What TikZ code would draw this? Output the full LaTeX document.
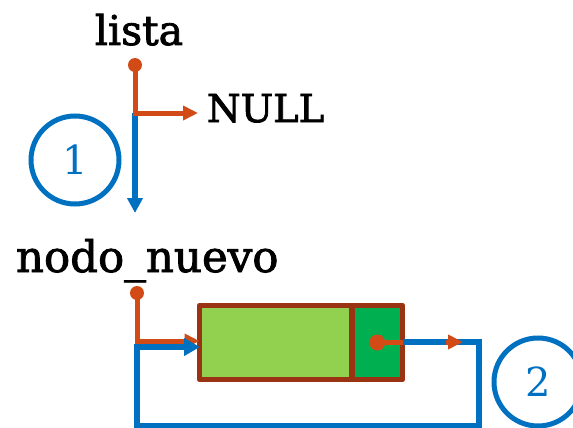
\documentclass[tikz,border=0pt]{standalone}
\usepackage{fontspec}
\setmainfont{DejaVu Serif}
\newfontfamily\slabfont{DejaVu Serif}[FakeBold=2]
\usetikzlibrary{arrows.meta}
\definecolor{ptrred}{RGB}{210,75,23}
\definecolor{ptrblue}{RGB}{0,112,192}
\definecolor{boxbrown}{RGB}{153,51,17}
\definecolor{lgreen}{RGB}{146,208,80}
\definecolor{dgreen}{RGB}{0,176,80}
\begin{document}
\begin{tikzpicture}[x=1pt,y=-1pt,
  lbl/.style={font=\slabfont\fontsize{41}{48}\selectfont, inner sep=0pt, outer sep=0pt},
  redptr/.style={draw=ptrred, line width=5pt},
  blueptr/.style={draw=ptrblue, line width=5.5pt},
  redtip/.style={-{Triangle[length=15pt,width=14pt]}},
  bluetip/.style={-{Triangle[length=16pt,width=17pt]}},
  bluetipsmall/.style={-{Triangle[length=15pt,width=15pt]}},
  dotnode/.style={circle, fill=ptrred, minimum size=14pt, inner sep=0pt, outer sep=0pt},
  stepcirc/.style={circle, draw=ptrblue, line width=5pt, minimum size=88pt, inner sep=0pt, outer sep=0pt, text=ptrblue, font=\fontsize{40}{48}\selectfont},
  cell/.style={draw=boxbrown, line width=5.5pt, minimum height=74pt, inner sep=0pt, outer sep=0pt, line join=round}
]
\useasboundingbox (0,0) rectangle (573,428);
\clip (0,0) rectangle (573,428);

% labels
\node[lbl, anchor=base] (lista) at (139,45) {lista};
\node[lbl, anchor=base west, font=\slabfont\fontsize{38.5}{46}\selectfont] (null) at (207,122) {NULL};
\node[lbl, anchor=base west, font=\slabfont\fontsize{43.5}{50}\selectfont] (nuevo) at (16,272) {nodo\_nuevo};

% step 1
\node[dotnode] (d1) at (135,65) {};
\coordinate (c1) at (135,113);
\coordinate (t1) at (198,113);
\coordinate (t2) at (135,213);
\draw[blueptr, bluetipsmall] (c1) -- (t2);
\draw[redptr, redtip] (d1.center) -- (c1) -- (t1);
\node[stepcirc] (s1) at (75,160) {1};

% node box
\node[cell, fill=lgreen, minimum width=152.5pt] (data) at (275.75,342.5) {};
\node[cell, fill=dgreen, minimum width=50.5pt] (next) at (377.25,342.5) {};
\node[dotnode, minimum size=16pt] (d3) at (next.center) {};

% nodo_nuevo pointer (red, old)
\node[dotnode] (d2) at (137,293) {};
\coordinate (c2) at (137,341);
\coordinate (e2) at (199.5,341);
\draw[redptr, redtip] (d2.center) -- (c2) -- (e2);

% next pointer (red, old)
\coordinate (t3a) at (446,342);
\coordinate (t3) at (463,342);
\draw[redptr] (d3.center) -- (next.east |- d3.center);

% blue loop (new)
\coordinate (b1) at (402.5,342);
\coordinate (b2) at (479,342);
\coordinate (b3) at (479,426);
\coordinate (b4) at (137,426);
\coordinate (b5) at (137,347);
\coordinate (b6) at (200,347);
\draw[blueptr, bluetip, line join=miter] (b1) -- (b2) -- (b3) -- (b4) -- (b5) -- (b6);
\draw[redptr, redtip] (t3a) -- (t3);

% step 2
\node[stepcirc] (s2) at (538,382) {2};
\end{tikzpicture}
\end{document}
